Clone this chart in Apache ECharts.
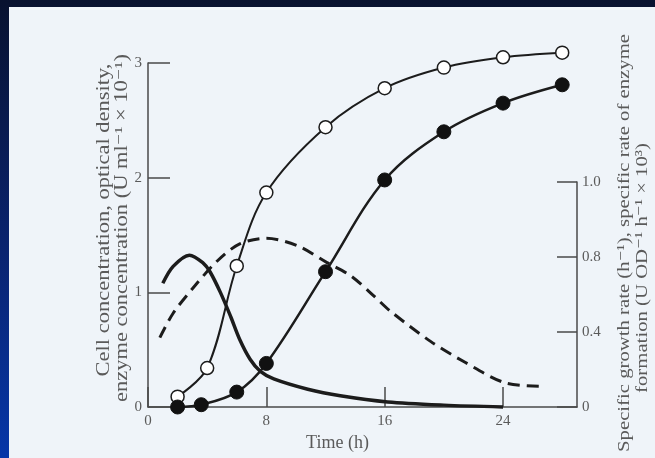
<!DOCTYPE html>
<html>
<head>
<meta charset="utf-8">
<script src="https://cdn.jsdelivr.net/npm/echarts@6/dist/echarts.min.js"></script>
<style>
  html, body { margin: 0; padding: 0; width: 655px; height: 458px; overflow: hidden; }
  body { background: linear-gradient(to bottom, #08122f 0%, #0a2470 55%, #0636a8 100%); position: relative; }
  #paper { position: absolute; left: 9px; top: 7px; right: 0; bottom: 0; background: #eff4f9; }
  #chart { position: absolute; left: 0; top: 0; width: 655px; height: 458px; }
</style>
</head>
<body>
<div id="paper"></div>
<div id="chart"></div>
<script>
// ---- data ----
const xTickValues = [0, 8, 16, 24];
const leftTickValues = [0, 1, 2, 3];
const rightTickLabels = ['0', '0.4', '0.8', '1.0'];

// optical density (open circles)
const odTime  = [2, 4, 6, 8, 12, 16, 20, 24, 28];
const odValue = [0.09, 0.34, 1.23, 1.87, 2.44, 2.78, 2.96, 3.05, 3.09];

// enzyme / cell concentration (filled circles)
const enzTime  = [2, 3.6, 6, 8, 12, 16, 20, 24, 28];
const enzValue = [0.0, 0.02, 0.13, 0.38, 1.18, 1.98, 2.40, 2.65, 2.81];

// specific growth rate (solid curve, right axis)
const muTime  = [1, 1.7, 2.8, 3.7, 4.2, 4.9, 5.6, 6.2, 6.9, 7.6, 8.5, 10.8, 13, 16.2, 20, 24];
const muValue = [0.66, 0.75, 0.81, 0.77, 0.72, 0.61, 0.48, 0.36, 0.255, 0.19, 0.15, 0.095, 0.06, 0.027, 0.01, 0.0];

// specific rate of enzyme formation (dashed curve, right axis)
const qTime  = [0.8, 1.7, 3.1, 4.7, 6.2, 8, 10.1, 12.1, 13.7, 15.3, 16.4, 19.1, 21.4, 24.1, 26.7];
const qValue = [0.37, 0.50, 0.64, 0.78, 0.87, 0.90, 0.86, 0.77, 0.70, 0.59, 0.51, 0.35, 0.24, 0.13, 0.11];

const zip = (xs, ys) => xs.map((x, i) => [x, ys[i]]);

const ink = '#1c1c1c';
const axisCol = '#4a4a4a';
const textCol = '#5a5a5a';
const serif = '"Liberation Serif", "DejaVu Serif", serif';

const chart = echarts.init(document.getElementById('chart'), null, { renderer: 'canvas' });

const baseAxisLine = { show: true, onZero: false, lineStyle: { color: axisCol, width: 1.5 } };

chart.setOption({
  backgroundColor: 'transparent',
  animation: false,
  grid: [
    { left: 148, right: 78, top: 63, bottom: 51 },
    { left: 148, right: 78, top: 182, bottom: 51 }
  ],
  xAxis: [
    {
      gridIndex: 0, type: 'value', min: 0, max: 29, interval: 8,
      axisLine: baseAxisLine,
      axisTick: { show: true, inside: true, length: 20, lineStyle: { color: axisCol, width: 1.5 } },
      splitLine: { show: false },
      axisLabel: {
        color: textCol, fontFamily: serif, fontSize: 15, margin: 7,
        showMaxLabel: false,
        formatter: v => (xTickValues.indexOf(v) >= 0 ? String(v) : '')
      },
      name: 'Time (h)', nameLocation: 'middle', nameGap: 24,
      nameTextStyle: { color: textCol, fontFamily: serif, fontSize: 18, padding: [0, 50, 0, 0] }
    },
    { gridIndex: 1, type: 'value', min: 0, max: 29, show: false, axisLine: { onZero: false } }
  ],
  yAxis: [
    {
      gridIndex: 0, type: 'value', min: 0, max: 3, interval: 1,
      axisLine: baseAxisLine,
      axisTick: { show: true, inside: true, length: 22, lineStyle: { color: axisCol, width: 1.5 } },
      splitLine: { show: false },
      axisLabel: {
        color: textCol, fontFamily: serif, fontSize: 15, margin: 6,
        formatter: v => (leftTickValues.indexOf(v) >= 0 ? String(v) : '')
      }
    },
    {
      gridIndex: 1, type: 'value', position: 'right', min: 0, max: 1.2, interval: 0.4,
      axisLine: baseAxisLine,
      axisTick: { show: true, inside: true, length: 20, lineStyle: { color: axisCol, width: 1.5 } },
      splitLine: { show: false },
      axisLabel: {
        color: textCol, fontFamily: serif, fontSize: 15, margin: 5,
        formatter: v => rightTickLabels[Math.round(v / 0.4)] || ''
      }
    }
  ],
  graphic: [
    { type: 'text', x: 104, y: 220, rotation: Math.PI / 2, scaleX: 1.25,
      style: { text: 'Cell concentration, optical density,', fill: textCol, font: '18px ' + serif, align: 'center', verticalAlign: 'middle' } },
    { type: 'text', x: 122, y: 228, rotation: Math.PI / 2, scaleX: 1.25,
      style: { text: 'enzyme concentration (U ml\u207B\u00B9 \u00D7 10\u207B\u00B9)', fill: textCol, font: '18px ' + serif, align: 'center', verticalAlign: 'middle' } },
    { type: 'text', x: 625, y: 243, rotation: Math.PI / 2, scaleX: 1.22,
      style: { text: 'Specific growth rate (h\u207B\u00B9), specific rate of enzyme', fill: textCol, font: '17px ' + serif, align: 'center', verticalAlign: 'middle' } },
    { type: 'text', x: 643, y: 268, rotation: Math.PI / 2, scaleX: 1.22,
      style: { text: 'formation (U OD\u207B\u00B9 h\u207B\u00B9 \u00D7 10\u00B3)', fill: textCol, font: '17px ' + serif, align: 'center', verticalAlign: 'middle' } }
  ],
  series: [
    {
      name: 'Specific rate of enzyme formation', type: 'line', xAxisIndex: 1, yAxisIndex: 1,
      data: zip(qTime, qValue), smooth: 0.3, showSymbol: false, symbol: 'none', clip: false,
      lineStyle: { color: ink, width: 3, type: [12, 7] }, z: 2
    },
    {
      name: 'Specific growth rate', type: 'line', xAxisIndex: 1, yAxisIndex: 1,
      data: zip(muTime, muValue), smooth: 0.3, showSymbol: false, symbol: 'none', clip: false,
      lineStyle: { color: ink, width: 3.5 }, z: 2
    },
    {
      name: 'Optical density', type: 'line', xAxisIndex: 0, yAxisIndex: 0,
      data: zip(odTime, odValue), smooth: 0.35, clip: false,
      symbol: 'circle', symbolSize: 13,
      itemStyle: { color: '#ffffff', borderColor: ink, borderWidth: 1.5 },
      lineStyle: { color: ink, width: 2 }, z: 3
    },
    {
      name: 'Enzyme concentration', type: 'line', xAxisIndex: 0, yAxisIndex: 0,
      data: zip(enzTime, enzValue), smooth: 0.35, clip: false,
      symbol: 'circle', symbolSize: 14,
      itemStyle: { color: '#111111', borderColor: '#111111', borderWidth: 1 },
      lineStyle: { color: ink, width: 2.5 }, z: 3
    }
  ]
});
</script>
</body>
</html>
